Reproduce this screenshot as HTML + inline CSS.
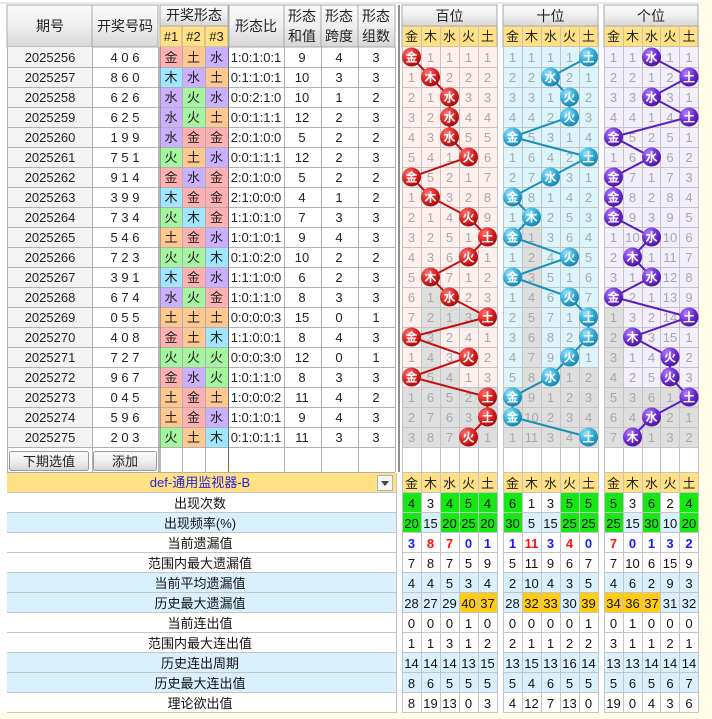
<!DOCTYPE html>
<html><head><meta charset="utf-8"><style>
html,body{margin:0;padding:0;background:#fff}
svg{display:block;font-family:"Liberation Sans","Noto Sans CJK SC",sans-serif}
.t{font-size:13px;fill:#222;text-anchor:middle}
.h{font-size:14px;fill:#222;text-anchor:middle}
.m{font-size:13px;fill:#a8a8a8;text-anchor:middle}
.b{font-size:12px;fill:#fff;font-weight:bold;text-anchor:middle}
.s{font-size:13px;fill:#111;text-anchor:middle}
</style></head><body>
<svg width="712" height="719" viewBox="0 0 712 719">
<defs>
<linearGradient id="hg" x1="0" y1="0" x2="0" y2="1"><stop offset="0" stop-color="#fbfbfb"/><stop offset="0.5" stop-color="#efefef"/><stop offset="1" stop-color="#d6d6d6"/></linearGradient>
<radialGradient id="rr" cx="0.35" cy="0.3" r="0.75"><stop offset="0" stop-color="#ff7070"/><stop offset="0.6" stop-color="#d82020"/><stop offset="1" stop-color="#a00808"/></radialGradient>
<radialGradient id="rc" cx="0.35" cy="0.3" r="0.75"><stop offset="0" stop-color="#90e4ff"/><stop offset="0.6" stop-color="#30a8d4"/><stop offset="1" stop-color="#1480a8"/></radialGradient>
<radialGradient id="rp" cx="0.35" cy="0.3" r="0.75"><stop offset="0" stop-color="#b080ff"/><stop offset="0.6" stop-color="#6a2ad0"/><stop offset="1" stop-color="#4a149c"/></radialGradient>
</defs>
<rect width="712" height="719" fill="#fff"/>
<rect x="699" y="0" width="13" height="719" fill="#fffde6"/>
<rect x="0" y="713" width="712" height="6" fill="#fffde6"/>
<line x1="0" y1="3" x2="699" y2="3" stroke="#c8d4e0"/>
<line x1="399" y1="5" x2="399" y2="472" stroke="#909090" stroke-width="2"/>

<!-- left header -->
<g stroke="#a8a8a8" stroke-width="1">
<rect x="7" y="5" width="85" height="42" fill="url(#hg)"/>
<rect x="92" y="5" width="66" height="42" fill="url(#hg)"/>
<rect x="160" y="5" width="68" height="21" fill="url(#hg)"/>
<rect x="160" y="26" width="22" height="21" fill="#ffe084"/>
<rect x="182" y="26" width="23" height="21" fill="#ffe084"/>
<rect x="205" y="26" width="23" height="21" fill="#ffe084"/>
<rect x="229" y="5" width="55" height="42" fill="url(#hg)"/>
<rect x="284" y="5" width="37" height="42" fill="url(#hg)"/>
<rect x="321" y="5" width="37" height="42" fill="url(#hg)"/>
<rect x="358" y="5" width="37" height="42" fill="url(#hg)"/>
</g>
<text class="h" x="50" y="31">期号</text>
<text class="h" x="125" y="31">开奖号码</text>
<text class="h" x="194" y="20">开奖形态</text>
<text class="t" x="171" y="41">#1</text><text class="t" x="193.5" y="41">#2</text><text class="t" x="216.5" y="41">#3</text>
<text class="h" x="256" y="31">形态比</text>
<text class="h" x="302" y="21">形态</text><text class="h" x="302" y="41">和值</text>
<text class="h" x="339" y="21">形态</text><text class="h" x="339" y="41">跨度</text>
<text class="h" x="376" y="21">形态</text><text class="h" x="376" y="41">组数</text>

<!-- left body backgrounds -->
<rect x="7" y="47" width="85" height="400" fill="#f3f3f3"/>
<!-- element cells -->
<g>
<rect x="160" y="47" width="22" height="20" fill="#ffb0b0"/><rect x="182" y="47" width="23" height="20" fill="#ffc890"/><rect x="205" y="47" width="23" height="20" fill="#cbb0ff"/>
<rect x="160" y="67" width="22" height="20" fill="#a0e6ff"/><rect x="182" y="67" width="23" height="20" fill="#cbb0ff"/><rect x="205" y="67" width="23" height="20" fill="#ffc890"/>
<rect x="160" y="87" width="22" height="20" fill="#cbb0ff"/><rect x="182" y="87" width="23" height="20" fill="#a4f4a0"/><rect x="205" y="87" width="23" height="20" fill="#cbb0ff"/>
<rect x="160" y="107" width="22" height="20" fill="#cbb0ff"/><rect x="182" y="107" width="23" height="20" fill="#a4f4a0"/><rect x="205" y="107" width="23" height="20" fill="#ffc890"/>
<rect x="160" y="127" width="22" height="20" fill="#cbb0ff"/><rect x="182" y="127" width="23" height="20" fill="#ffb0b0"/><rect x="205" y="127" width="23" height="20" fill="#ffb0b0"/>
<rect x="160" y="147" width="22" height="20" fill="#a4f4a0"/><rect x="182" y="147" width="23" height="20" fill="#ffc890"/><rect x="205" y="147" width="23" height="20" fill="#cbb0ff"/>
<rect x="160" y="167" width="22" height="20" fill="#ffb0b0"/><rect x="182" y="167" width="23" height="20" fill="#cbb0ff"/><rect x="205" y="167" width="23" height="20" fill="#ffb0b0"/>
<rect x="160" y="187" width="22" height="20" fill="#a0e6ff"/><rect x="182" y="187" width="23" height="20" fill="#ffb0b0"/><rect x="205" y="187" width="23" height="20" fill="#ffb0b0"/>
<rect x="160" y="207" width="22" height="20" fill="#a4f4a0"/><rect x="182" y="207" width="23" height="20" fill="#a0e6ff"/><rect x="205" y="207" width="23" height="20" fill="#ffb0b0"/>
<rect x="160" y="227" width="22" height="20" fill="#ffc890"/><rect x="182" y="227" width="23" height="20" fill="#ffb0b0"/><rect x="205" y="227" width="23" height="20" fill="#cbb0ff"/>
<rect x="160" y="247" width="22" height="20" fill="#a4f4a0"/><rect x="182" y="247" width="23" height="20" fill="#a4f4a0"/><rect x="205" y="247" width="23" height="20" fill="#a0e6ff"/>
<rect x="160" y="267" width="22" height="20" fill="#a0e6ff"/><rect x="182" y="267" width="23" height="20" fill="#ffb0b0"/><rect x="205" y="267" width="23" height="20" fill="#cbb0ff"/>
<rect x="160" y="287" width="22" height="20" fill="#cbb0ff"/><rect x="182" y="287" width="23" height="20" fill="#a4f4a0"/><rect x="205" y="287" width="23" height="20" fill="#ffb0b0"/>
<rect x="160" y="307" width="22" height="20" fill="#ffc890"/><rect x="182" y="307" width="23" height="20" fill="#ffc890"/><rect x="205" y="307" width="23" height="20" fill="#ffc890"/>
<rect x="160" y="327" width="22" height="20" fill="#ffb0b0"/><rect x="182" y="327" width="23" height="20" fill="#ffc890"/><rect x="205" y="327" width="23" height="20" fill="#a0e6ff"/>
<rect x="160" y="347" width="22" height="20" fill="#a4f4a0"/><rect x="182" y="347" width="23" height="20" fill="#a4f4a0"/><rect x="205" y="347" width="23" height="20" fill="#a4f4a0"/>
<rect x="160" y="367" width="22" height="20" fill="#ffb0b0"/><rect x="182" y="367" width="23" height="20" fill="#cbb0ff"/><rect x="205" y="367" width="23" height="20" fill="#a4f4a0"/>
<rect x="160" y="387" width="22" height="20" fill="#ffc890"/><rect x="182" y="387" width="23" height="20" fill="#ffb0b0"/><rect x="205" y="387" width="23" height="20" fill="#ffc890"/>
<rect x="160" y="407" width="22" height="20" fill="#ffc890"/><rect x="182" y="407" width="23" height="20" fill="#ffb0b0"/><rect x="205" y="407" width="23" height="20" fill="#cbb0ff"/>
<rect x="160" y="427" width="22" height="20" fill="#a4f4a0"/><rect x="182" y="427" width="23" height="20" fill="#ffc890"/><rect x="205" y="427" width="23" height="20" fill="#a0e6ff"/>
</g>
<!-- left grid -->
<g stroke="#b0b0b0" stroke-width="1">
<line x1="7" y1="67.5" x2="395" y2="67.5"/><line x1="7" y1="87.5" x2="395" y2="87.5"/><line x1="7" y1="107.5" x2="395" y2="107.5"/><line x1="7" y1="127.5" x2="395" y2="127.5"/><line x1="7" y1="147.5" x2="395" y2="147.5"/><line x1="7" y1="167.5" x2="395" y2="167.5"/><line x1="7" y1="187.5" x2="395" y2="187.5"/><line x1="7" y1="207.5" x2="395" y2="207.5"/><line x1="7" y1="227.5" x2="395" y2="227.5"/><line x1="7" y1="247.5" x2="395" y2="247.5"/><line x1="7" y1="267.5" x2="395" y2="267.5"/><line x1="7" y1="287.5" x2="395" y2="287.5"/><line x1="7" y1="307.5" x2="395" y2="307.5"/><line x1="7" y1="327.5" x2="395" y2="327.5"/><line x1="7" y1="347.5" x2="395" y2="347.5"/><line x1="7" y1="367.5" x2="395" y2="367.5"/><line x1="7" y1="387.5" x2="395" y2="387.5"/><line x1="7" y1="407.5" x2="395" y2="407.5"/><line x1="7" y1="427.5" x2="395" y2="427.5"/><line x1="7" y1="447.5" x2="395" y2="447.5"/><line x1="7" y1="472.5" x2="395" y2="472.5"/>
<line x1="92.5" y1="47" x2="92.5" y2="472"/><line x1="158.5" y1="47" x2="158.5" y2="472"/><line x1="182.5" y1="47" x2="182.5" y2="472"/><line x1="205.5" y1="47" x2="205.5" y2="472"/><line x1="284.5" y1="47" x2="284.5" y2="472"/><line x1="321.5" y1="47" x2="321.5" y2="472"/><line x1="358.5" y1="47" x2="358.5" y2="472"/><line x1="395.5" y1="47" x2="395.5" y2="472"/><line x1="7.5" y1="47" x2="7.5" y2="472"/>
</g>
<line x1="160" y1="47" x2="160" y2="472" stroke="#707070"/>
<line x1="228.5" y1="47" x2="228.5" y2="472" stroke="#707070"/>

<!-- left text -->
<g class="t">
<text class="t" x="50" y="62">2025256</text><text class="t" x="50" y="82">2025257</text><text class="t" x="50" y="102">2025258</text><text class="t" x="50" y="122">2025259</text><text class="t" x="50" y="142">2025260</text><text class="t" x="50" y="162">2025261</text><text class="t" x="50" y="182">2025262</text><text class="t" x="50" y="202">2025263</text><text class="t" x="50" y="222">2025264</text><text class="t" x="50" y="242">2025265</text><text class="t" x="50" y="262">2025266</text><text class="t" x="50" y="282">2025267</text><text class="t" x="50" y="302">2025268</text><text class="t" x="50" y="322">2025269</text><text class="t" x="50" y="342">2025270</text><text class="t" x="50" y="362">2025271</text><text class="t" x="50" y="382">2025272</text><text class="t" x="50" y="402">2025273</text><text class="t" x="50" y="422">2025274</text><text class="t" x="50" y="442">2025275</text>
<text class="t" x="125" y="62">4 0 6</text><text class="t" x="125" y="82">8 6 0</text><text class="t" x="125" y="102">6 2 6</text><text class="t" x="125" y="122">6 2 5</text><text class="t" x="125" y="142">1 9 9</text><text class="t" x="125" y="162">7 5 1</text><text class="t" x="125" y="182">9 1 4</text><text class="t" x="125" y="202">3 9 9</text><text class="t" x="125" y="222">7 3 4</text><text class="t" x="125" y="242">5 4 6</text><text class="t" x="125" y="262">7 2 3</text><text class="t" x="125" y="282">3 9 1</text><text class="t" x="125" y="302">6 7 4</text><text class="t" x="125" y="322">0 5 5</text><text class="t" x="125" y="342">4 0 8</text><text class="t" x="125" y="362">7 2 7</text><text class="t" x="125" y="382">9 6 7</text><text class="t" x="125" y="402">0 4 5</text><text class="t" x="125" y="422">5 9 6</text><text class="t" x="125" y="442">2 0 3</text>
</g>
<g>
<text class="t" x="171" y="62">金</text><text class="t" x="193.5" y="62">土</text><text class="t" x="216.5" y="62">水</text>
<text class="t" x="171" y="82">木</text><text class="t" x="193.5" y="82">水</text><text class="t" x="216.5" y="82">土</text>
<text class="t" x="171" y="102">水</text><text class="t" x="193.5" y="102">火</text><text class="t" x="216.5" y="102">水</text>
<text class="t" x="171" y="122">水</text><text class="t" x="193.5" y="122">火</text><text class="t" x="216.5" y="122">土</text>
<text class="t" x="171" y="142">水</text><text class="t" x="193.5" y="142">金</text><text class="t" x="216.5" y="142">金</text>
<text class="t" x="171" y="162">火</text><text class="t" x="193.5" y="162">土</text><text class="t" x="216.5" y="162">水</text>
<text class="t" x="171" y="182">金</text><text class="t" x="193.5" y="182">水</text><text class="t" x="216.5" y="182">金</text>
<text class="t" x="171" y="202">木</text><text class="t" x="193.5" y="202">金</text><text class="t" x="216.5" y="202">金</text>
<text class="t" x="171" y="222">火</text><text class="t" x="193.5" y="222">木</text><text class="t" x="216.5" y="222">金</text>
<text class="t" x="171" y="242">土</text><text class="t" x="193.5" y="242">金</text><text class="t" x="216.5" y="242">水</text>
<text class="t" x="171" y="262">火</text><text class="t" x="193.5" y="262">火</text><text class="t" x="216.5" y="262">木</text>
<text class="t" x="171" y="282">木</text><text class="t" x="193.5" y="282">金</text><text class="t" x="216.5" y="282">水</text>
<text class="t" x="171" y="302">水</text><text class="t" x="193.5" y="302">火</text><text class="t" x="216.5" y="302">金</text>
<text class="t" x="171" y="322">土</text><text class="t" x="193.5" y="322">土</text><text class="t" x="216.5" y="322">土</text>
<text class="t" x="171" y="342">金</text><text class="t" x="193.5" y="342">土</text><text class="t" x="216.5" y="342">木</text>
<text class="t" x="171" y="362">火</text><text class="t" x="193.5" y="362">火</text><text class="t" x="216.5" y="362">火</text>
<text class="t" x="171" y="382">金</text><text class="t" x="193.5" y="382">水</text><text class="t" x="216.5" y="382">火</text>
<text class="t" x="171" y="402">土</text><text class="t" x="193.5" y="402">金</text><text class="t" x="216.5" y="402">土</text>
<text class="t" x="171" y="422">土</text><text class="t" x="193.5" y="422">金</text><text class="t" x="216.5" y="422">水</text>
<text class="t" x="171" y="442">火</text><text class="t" x="193.5" y="442">土</text><text class="t" x="216.5" y="442">木</text>
</g>
<g>
<text class="t" x="256" y="62">1:0:1:0:1</text><text class="t" x="256" y="82">0:1:1:0:1</text><text class="t" x="256" y="102">0:0:2:1:0</text><text class="t" x="256" y="122">0:0:1:1:1</text><text class="t" x="256" y="142">2:0:1:0:0</text><text class="t" x="256" y="162">0:0:1:1:1</text><text class="t" x="256" y="182">2:0:1:0:0</text><text class="t" x="256" y="202">2:1:0:0:0</text><text class="t" x="256" y="222">1:1:0:1:0</text><text class="t" x="256" y="242">1:0:1:0:1</text><text class="t" x="256" y="262">0:1:0:2:0</text><text class="t" x="256" y="282">1:1:1:0:0</text><text class="t" x="256" y="302">1:0:1:1:0</text><text class="t" x="256" y="322">0:0:0:0:3</text><text class="t" x="256" y="342">1:1:0:0:1</text><text class="t" x="256" y="362">0:0:0:3:0</text><text class="t" x="256" y="382">1:0:1:1:0</text><text class="t" x="256" y="402">1:0:0:0:2</text><text class="t" x="256" y="422">1:0:1:0:1</text><text class="t" x="256" y="442">0:1:0:1:1</text>
<text class="t" x="302" y="62">9</text><text class="t" x="302" y="82">10</text><text class="t" x="302" y="102">10</text><text class="t" x="302" y="122">12</text><text class="t" x="302" y="142">5</text><text class="t" x="302" y="162">12</text><text class="t" x="302" y="182">5</text><text class="t" x="302" y="202">4</text><text class="t" x="302" y="222">7</text><text class="t" x="302" y="242">9</text><text class="t" x="302" y="262">10</text><text class="t" x="302" y="282">6</text><text class="t" x="302" y="302">8</text><text class="t" x="302" y="322">15</text><text class="t" x="302" y="342">8</text><text class="t" x="302" y="362">12</text><text class="t" x="302" y="382">8</text><text class="t" x="302" y="402">11</text><text class="t" x="302" y="422">9</text><text class="t" x="302" y="442">11</text>
<text class="t" x="339" y="62">4</text><text class="t" x="339" y="82">3</text><text class="t" x="339" y="102">1</text><text class="t" x="339" y="122">2</text><text class="t" x="339" y="142">2</text><text class="t" x="339" y="162">2</text><text class="t" x="339" y="182">2</text><text class="t" x="339" y="202">1</text><text class="t" x="339" y="222">3</text><text class="t" x="339" y="242">4</text><text class="t" x="339" y="262">2</text><text class="t" x="339" y="282">2</text><text class="t" x="339" y="302">3</text><text class="t" x="339" y="322">0</text><text class="t" x="339" y="342">4</text><text class="t" x="339" y="362">0</text><text class="t" x="339" y="382">3</text><text class="t" x="339" y="402">4</text><text class="t" x="339" y="422">4</text><text class="t" x="339" y="442">3</text>
<text class="t" x="376" y="62">3</text><text class="t" x="376" y="82">3</text><text class="t" x="376" y="102">2</text><text class="t" x="376" y="122">3</text><text class="t" x="376" y="142">2</text><text class="t" x="376" y="162">3</text><text class="t" x="376" y="182">2</text><text class="t" x="376" y="202">2</text><text class="t" x="376" y="222">3</text><text class="t" x="376" y="242">3</text><text class="t" x="376" y="262">2</text><text class="t" x="376" y="282">3</text><text class="t" x="376" y="302">3</text><text class="t" x="376" y="322">1</text><text class="t" x="376" y="342">3</text><text class="t" x="376" y="362">1</text><text class="t" x="376" y="382">3</text><text class="t" x="376" y="402">2</text><text class="t" x="376" y="422">3</text><text class="t" x="376" y="442">3</text>
</g>

<!-- buttons -->
<rect x="9.5" y="451.5" width="79" height="19" rx="2" fill="url(#hg)" stroke="#9a9a9a"/>
<text class="t" x="49" y="466">下期选值</text>
<rect x="93.5" y="451.5" width="63" height="19" rx="2" fill="url(#hg)" stroke="#9a9a9a"/>
<text class="t" x="125" y="466">添加</text>

<!-- chart headers -->
<g stroke="#a8a8a8">
<rect x="402" y="5" width="95" height="21" fill="url(#hg)"/>
<rect x="503" y="5" width="95" height="21" fill="url(#hg)"/>
<rect x="604" y="5" width="94" height="21" fill="url(#hg)"/>
<rect x="402" y="26" width="95" height="21" fill="#ffe084"/>
<rect x="503" y="26" width="95" height="21" fill="#ffe084"/>
<rect x="604" y="26" width="94" height="21" fill="#ffe084"/>
</g>
<text class="h" x="449.5" y="21">百位</text><text class="h" x="550.5" y="21">十位</text><text class="h" x="651" y="21">个位</text>
<g>
<text class="t" x="411.5" y="41">金</text><text class="t" x="430.5" y="41">木</text><text class="t" x="449.5" y="41">水</text><text class="t" x="468.5" y="41">火</text><text class="t" x="487.5" y="41">土</text>
<text class="t" x="512.5" y="41">金</text><text class="t" x="531.5" y="41">木</text><text class="t" x="550.5" y="41">水</text><text class="t" x="569.5" y="41">火</text><text class="t" x="588.5" y="41">土</text>
<text class="t" x="613.5" y="41">金</text><text class="t" x="632.5" y="41">木</text><text class="t" x="651.5" y="41">水</text><text class="t" x="670" y="41">火</text><text class="t" x="689" y="41">土</text>
</g>

<!-- chart bodies -->
<rect x="402" y="47" width="95" height="400" fill="#fff0ee"/>
<rect x="503" y="47" width="95" height="400" fill="#dcf5fc"/>
<rect x="604" y="47" width="94" height="400" fill="#f2eefc"/>
<g fill="#dedede">
<rect x="421" y="287" width="19" height="160"/><rect x="440" y="307" width="19" height="20"/><rect x="459" y="307" width="19" height="20"/><rect x="402" y="387" width="95" height="60"/><rect x="440" y="367" width="19" height="20"/>
<rect x="522" y="227" width="19" height="220"/><rect x="560" y="367" width="38" height="20"/><rect x="503" y="387" width="95" height="60"/>
<rect x="604" y="307" width="19" height="140"/><rect x="604" y="387" width="94" height="60"/>
</g>
<rect x="402" y="447" width="95" height="26" fill="#fff"/><rect x="503" y="447" width="95" height="26" fill="#fff"/><rect x="604" y="447" width="94" height="26" fill="#fff"/>
<g stroke="#c4c4c4" stroke-width="1">
<path d="M402 67.5H497M402 87.5H497M402 107.5H497M402 127.5H497M402 147.5H497M402 167.5H497M402 187.5H497M402 207.5H497M402 227.5H497M402 247.5H497M402 267.5H497M402 287.5H497M402 307.5H497M402 327.5H497M402 347.5H497M402 367.5H497M402 387.5H497M402 407.5H497M402 427.5H497M402 447.5H497M402 472.5H497"/>
<path d="M503 67.5H598M503 87.5H598M503 107.5H598M503 127.5H598M503 147.5H598M503 167.5H598M503 187.5H598M503 207.5H598M503 227.5H598M503 247.5H598M503 267.5H598M503 287.5H598M503 307.5H598M503 327.5H598M503 347.5H598M503 367.5H598M503 387.5H598M503 407.5H598M503 427.5H598M503 447.5H598M503 472.5H598"/>
<path d="M604 67.5H698M604 87.5H698M604 107.5H698M604 127.5H698M604 147.5H698M604 167.5H698M604 187.5H698M604 207.5H698M604 227.5H698M604 247.5H698M604 267.5H698M604 287.5H698M604 307.5H698M604 327.5H698M604 347.5H698M604 367.5H698M604 387.5H698M604 407.5H698M604 427.5H698M604 447.5H698M604 472.5H698"/>
<path d="M402.5 26V713M421.5 26V713M440.5 26V713M459.5 26V713M478.5 26V713M497.5 26V713M503.5 26V713M522.5 26V713M541.5 26V713M560.5 26V713M579.5 26V713M598.5 26V713M604.5 26V713M623.5 26V713M642.5 26V713M660.5 26V713M679.5 26V713M698.5 26V713"/>
</g>

<!-- miss numbers 百位 -->
<g>
<text class="m" x="430.5" y="62">1</text><text class="m" x="449.5" y="62">1</text><text class="m" x="468.5" y="62">1</text><text class="m" x="487.5" y="62">1</text>
<text class="m" x="411.5" y="82">1</text><text class="m" x="449.5" y="82">2</text><text class="m" x="468.5" y="82">2</text><text class="m" x="487.5" y="82">2</text>
<text class="m" x="411.5" y="102">2</text><text class="m" x="430.5" y="102">1</text><text class="m" x="468.5" y="102">3</text><text class="m" x="487.5" y="102">3</text>
<text class="m" x="411.5" y="122">3</text><text class="m" x="430.5" y="122">2</text><text class="m" x="468.5" y="122">4</text><text class="m" x="487.5" y="122">4</text>
<text class="m" x="411.5" y="142">4</text><text class="m" x="430.5" y="142">3</text><text class="m" x="468.5" y="142">5</text><text class="m" x="487.5" y="142">5</text>
<text class="m" x="411.5" y="162">5</text><text class="m" x="430.5" y="162">4</text><text class="m" x="449.5" y="162">1</text><text class="m" x="487.5" y="162">6</text>
<text class="m" x="430.5" y="182">5</text><text class="m" x="449.5" y="182">2</text><text class="m" x="468.5" y="182">1</text><text class="m" x="487.5" y="182">7</text>
<text class="m" x="411.5" y="202">1</text><text class="m" x="449.5" y="202">3</text><text class="m" x="468.5" y="202">2</text><text class="m" x="487.5" y="202">8</text>
<text class="m" x="411.5" y="222">2</text><text class="m" x="430.5" y="222">1</text><text class="m" x="449.5" y="222">4</text><text class="m" x="487.5" y="222">9</text>
<text class="m" x="411.5" y="242">3</text><text class="m" x="430.5" y="242">2</text><text class="m" x="449.5" y="242">5</text><text class="m" x="468.5" y="242">1</text>
<text class="m" x="411.5" y="262">4</text><text class="m" x="430.5" y="262">3</text><text class="m" x="449.5" y="262">6</text><text class="m" x="487.5" y="262">1</text>
<text class="m" x="411.5" y="282">5</text><text class="m" x="449.5" y="282">7</text><text class="m" x="468.5" y="282">1</text><text class="m" x="487.5" y="282">2</text>
<text class="m" x="411.5" y="302">6</text><text class="m" x="430.5" y="302">1</text><text class="m" x="468.5" y="302">2</text><text class="m" x="487.5" y="302">3</text>
<text class="m" x="411.5" y="322">7</text><text class="m" x="430.5" y="322">2</text><text class="m" x="449.5" y="322">1</text><text class="m" x="468.5" y="322">3</text>
<text class="m" x="430.5" y="342">3</text><text class="m" x="449.5" y="342">2</text><text class="m" x="468.5" y="342">4</text><text class="m" x="487.5" y="342">1</text>
<text class="m" x="411.5" y="362">1</text><text class="m" x="430.5" y="362">4</text><text class="m" x="449.5" y="362">3</text><text class="m" x="487.5" y="362">2</text>
<text class="m" x="430.5" y="382">5</text><text class="m" x="449.5" y="382">4</text><text class="m" x="468.5" y="382">1</text><text class="m" x="487.5" y="382">3</text>
<text class="m" x="411.5" y="402">1</text><text class="m" x="430.5" y="402">6</text><text class="m" x="449.5" y="402">5</text><text class="m" x="468.5" y="402">2</text>
<text class="m" x="411.5" y="422">2</text><text class="m" x="430.5" y="422">7</text><text class="m" x="449.5" y="422">6</text><text class="m" x="468.5" y="422">3</text>
<text class="m" x="411.5" y="442">3</text><text class="m" x="430.5" y="442">8</text><text class="m" x="449.5" y="442">7</text><text class="m" x="487.5" y="442">1</text>
</g>
<!-- 十位 -->
<g>
<text class="m" x="512.5" y="62">1</text><text class="m" x="531.5" y="62">1</text><text class="m" x="550.5" y="62">1</text><text class="m" x="569.5" y="62">1</text>
<text class="m" x="512.5" y="82">2</text><text class="m" x="531.5" y="82">2</text><text class="m" x="569.5" y="82">2</text><text class="m" x="588.5" y="82">1</text>
<text class="m" x="512.5" y="102">3</text><text class="m" x="531.5" y="102">3</text><text class="m" x="550.5" y="102">1</text><text class="m" x="588.5" y="102">2</text>
<text class="m" x="512.5" y="122">4</text><text class="m" x="531.5" y="122">4</text><text class="m" x="550.5" y="122">2</text><text class="m" x="588.5" y="122">3</text>
<text class="m" x="531.5" y="142">5</text><text class="m" x="550.5" y="142">3</text><text class="m" x="569.5" y="142">1</text><text class="m" x="588.5" y="142">4</text>
<text class="m" x="512.5" y="162">1</text><text class="m" x="531.5" y="162">6</text><text class="m" x="550.5" y="162">4</text><text class="m" x="569.5" y="162">2</text>
<text class="m" x="512.5" y="182">2</text><text class="m" x="531.5" y="182">7</text><text class="m" x="569.5" y="182">3</text><text class="m" x="588.5" y="182">1</text>
<text class="m" x="531.5" y="202">8</text><text class="m" x="550.5" y="202">1</text><text class="m" x="569.5" y="202">4</text><text class="m" x="588.5" y="202">2</text>
<text class="m" x="512.5" y="222">1</text><text class="m" x="550.5" y="222">2</text><text class="m" x="569.5" y="222">5</text><text class="m" x="588.5" y="222">3</text>
<text class="m" x="531.5" y="242">1</text><text class="m" x="550.5" y="242">3</text><text class="m" x="569.5" y="242">6</text><text class="m" x="588.5" y="242">4</text>
<text class="m" x="512.5" y="262">1</text><text class="m" x="531.5" y="262">2</text><text class="m" x="550.5" y="262">4</text><text class="m" x="588.5" y="262">5</text>
<text class="m" x="531.5" y="282">3</text><text class="m" x="550.5" y="282">5</text><text class="m" x="569.5" y="282">1</text><text class="m" x="588.5" y="282">6</text>
<text class="m" x="512.5" y="302">1</text><text class="m" x="531.5" y="302">4</text><text class="m" x="550.5" y="302">6</text><text class="m" x="588.5" y="302">7</text>
<text class="m" x="512.5" y="322">2</text><text class="m" x="531.5" y="322">5</text><text class="m" x="550.5" y="322">7</text><text class="m" x="569.5" y="322">1</text>
<text class="m" x="512.5" y="342">3</text><text class="m" x="531.5" y="342">6</text><text class="m" x="550.5" y="342">8</text><text class="m" x="569.5" y="342">2</text>
<text class="m" x="512.5" y="362">4</text><text class="m" x="531.5" y="362">7</text><text class="m" x="550.5" y="362">9</text><text class="m" x="588.5" y="362">1</text>
<text class="m" x="512.5" y="382">5</text><text class="m" x="531.5" y="382">8</text><text class="m" x="569.5" y="382">1</text><text class="m" x="588.5" y="382">2</text>
<text class="m" x="531.5" y="402">9</text><text class="m" x="550.5" y="402">1</text><text class="m" x="569.5" y="402">2</text><text class="m" x="588.5" y="402">3</text>
<text class="m" x="531.5" y="422">10</text><text class="m" x="550.5" y="422">2</text><text class="m" x="569.5" y="422">3</text><text class="m" x="588.5" y="422">4</text>
<text class="m" x="512.5" y="442">1</text><text class="m" x="531.5" y="442">11</text><text class="m" x="550.5" y="442">3</text><text class="m" x="569.5" y="442">4</text>
</g>
<!-- 个位 -->
<g>
<text class="m" x="613.5" y="62">1</text><text class="m" x="632.5" y="62">1</text><text class="m" x="670" y="62">1</text><text class="m" x="689" y="62">1</text>
<text class="m" x="613.5" y="82">2</text><text class="m" x="632.5" y="82">2</text><text class="m" x="651.5" y="82">1</text><text class="m" x="670" y="82">2</text>
<text class="m" x="613.5" y="102">3</text><text class="m" x="632.5" y="102">3</text><text class="m" x="670" y="102">3</text><text class="m" x="689" y="102">1</text>
<text class="m" x="613.5" y="122">4</text><text class="m" x="632.5" y="122">4</text><text class="m" x="651.5" y="122">1</text><text class="m" x="670" y="122">4</text>
<text class="m" x="632.5" y="142">5</text><text class="m" x="651.5" y="142">2</text><text class="m" x="670" y="142">5</text><text class="m" x="689" y="142">1</text>
<text class="m" x="613.5" y="162">1</text><text class="m" x="632.5" y="162">6</text><text class="m" x="670" y="162">6</text><text class="m" x="689" y="162">2</text>
<text class="m" x="632.5" y="182">7</text><text class="m" x="651.5" y="182">1</text><text class="m" x="670" y="182">7</text><text class="m" x="689" y="182">3</text>
<text class="m" x="632.5" y="202">8</text><text class="m" x="651.5" y="202">2</text><text class="m" x="670" y="202">8</text><text class="m" x="689" y="202">4</text>
<text class="m" x="632.5" y="222">9</text><text class="m" x="651.5" y="222">3</text><text class="m" x="670" y="222">9</text><text class="m" x="689" y="222">5</text>
<text class="m" x="613.5" y="242">1</text><text class="m" x="632.5" y="242">10</text><text class="m" x="670" y="242">10</text><text class="m" x="689" y="242">6</text>
<text class="m" x="613.5" y="262">2</text><text class="m" x="651.5" y="262">1</text><text class="m" x="670" y="262">11</text><text class="m" x="689" y="262">7</text>
<text class="m" x="613.5" y="282">3</text><text class="m" x="632.5" y="282">1</text><text class="m" x="670" y="282">12</text><text class="m" x="689" y="282">8</text>
<text class="m" x="632.5" y="302">2</text><text class="m" x="651.5" y="302">1</text><text class="m" x="670" y="302">13</text><text class="m" x="689" y="302">9</text>
<text class="m" x="613.5" y="322">1</text><text class="m" x="632.5" y="322">3</text><text class="m" x="651.5" y="322">2</text><text class="m" x="670" y="322">14</text>
<text class="m" x="613.5" y="342">2</text><text class="m" x="651.5" y="342">3</text><text class="m" x="670" y="342">15</text><text class="m" x="689" y="342">1</text>
<text class="m" x="613.5" y="362">3</text><text class="m" x="632.5" y="362">1</text><text class="m" x="651.5" y="362">4</text><text class="m" x="689" y="362">2</text>
<text class="m" x="613.5" y="382">4</text><text class="m" x="632.5" y="382">2</text><text class="m" x="651.5" y="382">5</text><text class="m" x="689" y="382">3</text>
<text class="m" x="613.5" y="402">5</text><text class="m" x="632.5" y="402">3</text><text class="m" x="651.5" y="402">6</text><text class="m" x="670" y="402">1</text>
<text class="m" x="613.5" y="422">6</text><text class="m" x="632.5" y="422">4</text><text class="m" x="670" y="422">2</text><text class="m" x="689" y="422">1</text>
<text class="m" x="613.5" y="442">7</text><text class="m" x="651.5" y="442">1</text><text class="m" x="670" y="442">3</text><text class="m" x="689" y="442">2</text>
</g>

<!-- lines -->
<polyline fill="none" stroke="#c41010" stroke-width="2" points="411.5,57 430.5,77 449.5,97 449.5,117 449.5,137 468.5,157 411.5,177 430.5,197 468.5,217 487.5,237 468.5,257 430.5,277 449.5,297 487.5,317 411.5,337 468.5,357 411.5,377 487.5,397 487.5,417 468.5,437"/>
<polyline fill="none" stroke="#1890b8" stroke-width="2" points="588.5,57 550.5,77 569.5,97 569.5,117 512.5,137 588.5,157 550.5,177 512.5,197 531.5,217 512.5,237 569.5,257 512.5,277 569.5,297 588.5,317 588.5,337 569.5,357 550.5,377 512.5,397 512.5,417 588.5,437"/>
<polyline fill="none" stroke="#5a1ec0" stroke-width="2" points="651.5,57 689,77 651.5,97 689,117 613.5,137 651.5,157 613.5,177 613.5,197 613.5,217 651.5,237 632.5,257 651.5,277 613.5,297 689,317 632.5,337 670,357 670,377 689,397 651.5,417 632.5,437"/>

<!-- balls 百位 -->
<g fill="url(#rr)">
<circle cx="411.5" cy="57" r="9.5"/><circle cx="430.5" cy="77" r="9.5"/><circle cx="449.5" cy="97" r="9.5"/><circle cx="449.5" cy="117" r="9.5"/><circle cx="449.5" cy="137" r="9.5"/><circle cx="468.5" cy="157" r="9.5"/><circle cx="411.5" cy="177" r="9.5"/><circle cx="430.5" cy="197" r="9.5"/><circle cx="468.5" cy="217" r="9.5"/><circle cx="487.5" cy="237" r="9.5"/><circle cx="468.5" cy="257" r="9.5"/><circle cx="430.5" cy="277" r="9.5"/><circle cx="449.5" cy="297" r="9.5"/><circle cx="487.5" cy="317" r="9.5"/><circle cx="411.5" cy="337" r="9.5"/><circle cx="468.5" cy="357" r="9.5"/><circle cx="411.5" cy="377" r="9.5"/><circle cx="487.5" cy="397" r="9.5"/><circle cx="487.5" cy="417" r="9.5"/><circle cx="468.5" cy="437" r="9.5"/>
</g>
<g fill="url(#rc)">
<circle cx="588.5" cy="57" r="9.5"/><circle cx="550.5" cy="77" r="9.5"/><circle cx="569.5" cy="97" r="9.5"/><circle cx="569.5" cy="117" r="9.5"/><circle cx="512.5" cy="137" r="9.5"/><circle cx="588.5" cy="157" r="9.5"/><circle cx="550.5" cy="177" r="9.5"/><circle cx="512.5" cy="197" r="9.5"/><circle cx="531.5" cy="217" r="9.5"/><circle cx="512.5" cy="237" r="9.5"/><circle cx="569.5" cy="257" r="9.5"/><circle cx="512.5" cy="277" r="9.5"/><circle cx="569.5" cy="297" r="9.5"/><circle cx="588.5" cy="317" r="9.5"/><circle cx="588.5" cy="337" r="9.5"/><circle cx="569.5" cy="357" r="9.5"/><circle cx="550.5" cy="377" r="9.5"/><circle cx="512.5" cy="397" r="9.5"/><circle cx="512.5" cy="417" r="9.5"/><circle cx="588.5" cy="437" r="9.5"/>
</g>
<g fill="url(#rp)">
<circle cx="651.5" cy="57" r="9.5"/><circle cx="689" cy="77" r="9.5"/><circle cx="651.5" cy="97" r="9.5"/><circle cx="689" cy="117" r="9.5"/><circle cx="613.5" cy="137" r="9.5"/><circle cx="651.5" cy="157" r="9.5"/><circle cx="613.5" cy="177" r="9.5"/><circle cx="613.5" cy="197" r="9.5"/><circle cx="613.5" cy="217" r="9.5"/><circle cx="651.5" cy="237" r="9.5"/><circle cx="632.5" cy="257" r="9.5"/><circle cx="651.5" cy="277" r="9.5"/><circle cx="613.5" cy="297" r="9.5"/><circle cx="689" cy="317" r="9.5"/><circle cx="632.5" cy="337" r="9.5"/><circle cx="670" cy="357" r="9.5"/><circle cx="670" cy="377" r="9.5"/><circle cx="689" cy="397" r="9.5"/><circle cx="651.5" cy="417" r="9.5"/><circle cx="632.5" cy="437" r="9.5"/>
</g>
<g>
<text class="b" x="411.5" y="61.5">金</text><text class="b" x="430.5" y="81.5">木</text><text class="b" x="449.5" y="101.5">水</text><text class="b" x="449.5" y="121.5">水</text><text class="b" x="449.5" y="141.5">水</text><text class="b" x="468.5" y="161.5">火</text><text class="b" x="411.5" y="181.5">金</text><text class="b" x="430.5" y="201.5">木</text><text class="b" x="468.5" y="221.5">火</text><text class="b" x="487.5" y="241.5">土</text><text class="b" x="468.5" y="261.5">火</text><text class="b" x="430.5" y="281.5">木</text><text class="b" x="449.5" y="301.5">水</text><text class="b" x="487.5" y="321.5">土</text><text class="b" x="411.5" y="341.5">金</text><text class="b" x="468.5" y="361.5">火</text><text class="b" x="411.5" y="381.5">金</text><text class="b" x="487.5" y="401.5">土</text><text class="b" x="487.5" y="421.5">土</text><text class="b" x="468.5" y="441.5">火</text>
<text class="b" x="588.5" y="61.5">土</text><text class="b" x="550.5" y="81.5">水</text><text class="b" x="569.5" y="101.5">火</text><text class="b" x="569.5" y="121.5">火</text><text class="b" x="512.5" y="141.5">金</text><text class="b" x="588.5" y="161.5">土</text><text class="b" x="550.5" y="181.5">水</text><text class="b" x="512.5" y="201.5">金</text><text class="b" x="531.5" y="221.5">木</text><text class="b" x="512.5" y="241.5">金</text><text class="b" x="569.5" y="261.5">火</text><text class="b" x="512.5" y="281.5">金</text><text class="b" x="569.5" y="301.5">火</text><text class="b" x="588.5" y="321.5">土</text><text class="b" x="588.5" y="341.5">土</text><text class="b" x="569.5" y="361.5">火</text><text class="b" x="550.5" y="381.5">水</text><text class="b" x="512.5" y="401.5">金</text><text class="b" x="512.5" y="421.5">金</text><text class="b" x="588.5" y="441.5">土</text>
<text class="b" x="651.5" y="61.5">水</text><text class="b" x="689" y="81.5">土</text><text class="b" x="651.5" y="101.5">水</text><text class="b" x="689" y="121.5">土</text><text class="b" x="613.5" y="141.5">金</text><text class="b" x="651.5" y="161.5">水</text><text class="b" x="613.5" y="181.5">金</text><text class="b" x="613.5" y="201.5">金</text><text class="b" x="613.5" y="221.5">金</text><text class="b" x="651.5" y="241.5">水</text><text class="b" x="632.5" y="261.5">木</text><text class="b" x="651.5" y="281.5">水</text><text class="b" x="613.5" y="301.5">金</text><text class="b" x="689" y="321.5">土</text><text class="b" x="632.5" y="341.5">木</text><text class="b" x="670" y="361.5">火</text><text class="b" x="670" y="381.5">火</text><text class="b" x="689" y="401.5">土</text><text class="b" x="651.5" y="421.5">水</text><text class="b" x="632.5" y="441.5">木</text>
</g>

<!-- bottom section -->
<rect x="7" y="473" width="390" height="20" fill="#ffe084"/>
<text x="200" y="487" font-size="13" fill="#2424e0" text-anchor="middle">def-通用监视器-B</text>
<rect x="377.5" y="475.5" width="15" height="15" fill="#f6f6f6" stroke="#b0b0b0"/>
<path d="M381 481h8l-4 5z" fill="#444"/>
<g fill="#ffe084">
<rect x="402" y="473" width="95" height="20"/><rect x="503" y="473" width="95" height="20"/><rect x="604" y="473" width="94" height="20"/>
</g>
<g>
<text class="t" x="411.5" y="488">金</text><text class="t" x="430.5" y="488">木</text><text class="t" x="449.5" y="488">水</text><text class="t" x="468.5" y="488">火</text><text class="t" x="487.5" y="488">土</text>
<text class="t" x="512.5" y="488">金</text><text class="t" x="531.5" y="488">木</text><text class="t" x="550.5" y="488">水</text><text class="t" x="569.5" y="488">火</text><text class="t" x="588.5" y="488">土</text>
<text class="t" x="613.5" y="488">金</text><text class="t" x="632.5" y="488">木</text><text class="t" x="651.5" y="488">水</text><text class="t" x="670" y="488">火</text><text class="t" x="689" y="488">土</text>
</g>
<!-- blue row bgs -->
<g fill="#d9f1fc">
<rect x="7" y="513" width="691" height="20"/>
<rect x="7" y="573" width="691" height="40"/>
<rect x="7" y="653" width="691" height="40"/>
</g>
<rect x="397" y="493" width="5" height="220" fill="#fff"/><rect x="497" y="493" width="6" height="220" fill="#fff"/><rect x="598" y="493" width="6" height="220" fill="#fff"/>
<!-- highlights -->
<g fill="#16e816">
<rect x="402" y="493" width="19" height="40"/><rect x="440" y="493" width="57" height="40"/>
<rect x="503" y="493" width="19" height="40"/><rect x="560" y="493" width="38" height="40"/>
<rect x="604" y="493" width="19" height="40"/><rect x="642" y="493" width="18" height="40"/><rect x="679" y="493" width="19" height="40"/>
</g>
<g fill="#ffcc10">
<rect x="459" y="593" width="38" height="20"/><rect x="522" y="593" width="38" height="20"/><rect x="579" y="593" width="19" height="20"/><rect x="604" y="593" width="56" height="20"/>
</g>
<g stroke="#c4c4c4">
<path d="M7 492.5H397M7 512.5H397M7 532.5H397M7 552.5H397M7 572.5H397M7 592.5H397M7 612.5H397M7 632.5H397M7 652.5H397M7 672.5H397M7 692.5H397M7 712.5H397M396.5 473V713"/>
<path d="M402 492.5H497M402 512.5H497M402 532.5H497M402 552.5H497M402 572.5H497M402 592.5H497M402 612.5H497M402 632.5H497M402 652.5H497M402 672.5H497M402 692.5H497M402 712.5H497"/>
<path d="M503 492.5H598M503 512.5H598M503 532.5H598M503 552.5H598M503 572.5H598M503 592.5H598M503 612.5H598M503 632.5H598M503 652.5H598M503 672.5H598M503 692.5H598M503 712.5H598"/>
<path d="M604 492.5H698M604 512.5H698M604 532.5H698M604 552.5H698M604 572.5H698M604 592.5H698M604 612.5H698M604 632.5H698M604 652.5H698M604 672.5H698M604 692.5H698M604 712.5H698"/>
<path d="M402.5 473V713M421.5 473V713M440.5 473V713M459.5 473V713M478.5 473V713M497.5 473V713M503.5 473V713M522.5 473V713M541.5 473V713M560.5 473V713M579.5 473V713M598.5 473V713M604.5 473V713M623.5 473V713M642.5 473V713M660.5 473V713M679.5 473V713M698.5 473V713"/>
</g>
<g>
<text class="s" x="200" y="508">出现次数</text>
<text class="s" x="200" y="528">出现频率(%)</text>
<text class="s" x="200" y="548">当前遗漏值</text>
<text class="s" x="200" y="568">范围内最大遗漏值</text>
<text class="s" x="200" y="588">当前平均遗漏值</text>
<text class="s" x="200" y="608">历史最大遗漏值</text>
<text class="s" x="200" y="628">当前连出值</text>
<text class="s" x="200" y="648">范围内最大连出值</text>
<text class="s" x="200" y="668">历史连出周期</text>
<text class="s" x="200" y="688">历史最大连出值</text>
<text class="s" x="200" y="708">理论欲出值</text>
</g>
<g>
<text class="s" x="411.5" y="508">4</text><text class="s" x="430.5" y="508">3</text><text class="s" x="449.5" y="508">4</text><text class="s" x="468.5" y="508">5</text><text class="s" x="487.5" y="508">4</text><text class="s" x="512.5" y="508">6</text><text class="s" x="531.5" y="508">1</text><text class="s" x="550.5" y="508">3</text><text class="s" x="569.5" y="508">5</text><text class="s" x="588.5" y="508">5</text><text class="s" x="613.5" y="508">5</text><text class="s" x="632.5" y="508">3</text><text class="s" x="651.5" y="508">6</text><text class="s" x="670" y="508">2</text><text class="s" x="689" y="508">4</text>
<text class="s" x="411.5" y="528">20</text><text class="s" x="430.5" y="528">15</text><text class="s" x="449.5" y="528">20</text><text class="s" x="468.5" y="528">25</text><text class="s" x="487.5" y="528">20</text><text class="s" x="512.5" y="528">30</text><text class="s" x="531.5" y="528">5</text><text class="s" x="550.5" y="528">15</text><text class="s" x="569.5" y="528">25</text><text class="s" x="588.5" y="528">25</text><text class="s" x="613.5" y="528">25</text><text class="s" x="632.5" y="528">15</text><text class="s" x="651.5" y="528">30</text><text class="s" x="670" y="528">10</text><text class="s" x="689" y="528">20</text>
</g>
<g font-weight="bold">
<text class="s" x="411.5" y="548" style="fill:#1a1aff">3</text><text class="s" x="430.5" y="548" style="fill:#ff1010">8</text><text class="s" x="449.5" y="548" style="fill:#ff1010">7</text><text class="s" x="468.5" y="548" style="fill:#1a1aff">0</text><text class="s" x="487.5" y="548" style="fill:#1a1aff">1</text><text class="s" x="512.5" y="548" style="fill:#1a1aff">1</text><text class="s" x="531.5" y="548" style="fill:#ff1010">11</text><text class="s" x="550.5" y="548" style="fill:#1a1aff">3</text><text class="s" x="569.5" y="548" style="fill:#ff1010">4</text><text class="s" x="588.5" y="548" style="fill:#1a1aff">0</text><text class="s" x="613.5" y="548" style="fill:#ff1010">7</text><text class="s" x="632.5" y="548" style="fill:#1a1aff">0</text><text class="s" x="651.5" y="548" style="fill:#1a1aff">1</text><text class="s" x="670" y="548" style="fill:#1a1aff">3</text><text class="s" x="689" y="548" style="fill:#1a1aff">2</text>
</g>
<g>
<text class="s" x="411.5" y="568">7</text><text class="s" x="430.5" y="568">8</text><text class="s" x="449.5" y="568">7</text><text class="s" x="468.5" y="568">5</text><text class="s" x="487.5" y="568">9</text><text class="s" x="512.5" y="568">5</text><text class="s" x="531.5" y="568">11</text><text class="s" x="550.5" y="568">9</text><text class="s" x="569.5" y="568">6</text><text class="s" x="588.5" y="568">7</text><text class="s" x="613.5" y="568">7</text><text class="s" x="632.5" y="568">10</text><text class="s" x="651.5" y="568">6</text><text class="s" x="670" y="568">15</text><text class="s" x="689" y="568">9</text>
<text class="s" x="411.5" y="588">4</text><text class="s" x="430.5" y="588">4</text><text class="s" x="449.5" y="588">5</text><text class="s" x="468.5" y="588">3</text><text class="s" x="487.5" y="588">4</text><text class="s" x="512.5" y="588">2</text><text class="s" x="531.5" y="588">10</text><text class="s" x="550.5" y="588">4</text><text class="s" x="569.5" y="588">3</text><text class="s" x="588.5" y="588">5</text><text class="s" x="613.5" y="588">4</text><text class="s" x="632.5" y="588">6</text><text class="s" x="651.5" y="588">2</text><text class="s" x="670" y="588">9</text><text class="s" x="689" y="588">3</text>
<text class="s" x="411.5" y="608">28</text><text class="s" x="430.5" y="608">27</text><text class="s" x="449.5" y="608">29</text><text class="s" x="468.5" y="608">40</text><text class="s" x="487.5" y="608">37</text><text class="s" x="512.5" y="608">28</text><text class="s" x="531.5" y="608">32</text><text class="s" x="550.5" y="608">33</text><text class="s" x="569.5" y="608">30</text><text class="s" x="588.5" y="608">39</text><text class="s" x="613.5" y="608">34</text><text class="s" x="632.5" y="608">36</text><text class="s" x="651.5" y="608">37</text><text class="s" x="670" y="608">31</text><text class="s" x="689" y="608">32</text>
<text class="s" x="411.5" y="628">0</text><text class="s" x="430.5" y="628">0</text><text class="s" x="449.5" y="628">0</text><text class="s" x="468.5" y="628">1</text><text class="s" x="487.5" y="628">0</text><text class="s" x="512.5" y="628">0</text><text class="s" x="531.5" y="628">0</text><text class="s" x="550.5" y="628">0</text><text class="s" x="569.5" y="628">0</text><text class="s" x="588.5" y="628">1</text><text class="s" x="613.5" y="628">0</text><text class="s" x="632.5" y="628">1</text><text class="s" x="651.5" y="628">0</text><text class="s" x="670" y="628">0</text><text class="s" x="689" y="628">0</text>
<text class="s" x="411.5" y="648">1</text><text class="s" x="430.5" y="648">1</text><text class="s" x="449.5" y="648">3</text><text class="s" x="468.5" y="648">1</text><text class="s" x="487.5" y="648">2</text><text class="s" x="512.5" y="648">2</text><text class="s" x="531.5" y="648">1</text><text class="s" x="550.5" y="648">1</text><text class="s" x="569.5" y="648">2</text><text class="s" x="588.5" y="648">2</text><text class="s" x="613.5" y="648">3</text><text class="s" x="632.5" y="648">1</text><text class="s" x="651.5" y="648">1</text><text class="s" x="670" y="648">2</text><text class="s" x="689" y="648">1</text>
<text class="s" x="411.5" y="668">14</text><text class="s" x="430.5" y="668">14</text><text class="s" x="449.5" y="668">14</text><text class="s" x="468.5" y="668">13</text><text class="s" x="487.5" y="668">15</text><text class="s" x="512.5" y="668">13</text><text class="s" x="531.5" y="668">15</text><text class="s" x="550.5" y="668">13</text><text class="s" x="569.5" y="668">16</text><text class="s" x="588.5" y="668">14</text><text class="s" x="613.5" y="668">13</text><text class="s" x="632.5" y="668">13</text><text class="s" x="651.5" y="668">14</text><text class="s" x="670" y="668">14</text><text class="s" x="689" y="668">14</text>
<text class="s" x="411.5" y="688">8</text><text class="s" x="430.5" y="688">6</text><text class="s" x="449.5" y="688">5</text><text class="s" x="468.5" y="688">5</text><text class="s" x="487.5" y="688">5</text><text class="s" x="512.5" y="688">5</text><text class="s" x="531.5" y="688">4</text><text class="s" x="550.5" y="688">6</text><text class="s" x="569.5" y="688">5</text><text class="s" x="588.5" y="688">5</text><text class="s" x="613.5" y="688">5</text><text class="s" x="632.5" y="688">6</text><text class="s" x="651.5" y="688">5</text><text class="s" x="670" y="688">6</text><text class="s" x="689" y="688">7</text>
<text class="s" x="411.5" y="708">8</text><text class="s" x="430.5" y="708">19</text><text class="s" x="449.5" y="708">13</text><text class="s" x="468.5" y="708">0</text><text class="s" x="487.5" y="708">3</text><text class="s" x="512.5" y="708">4</text><text class="s" x="531.5" y="708">12</text><text class="s" x="550.5" y="708">7</text><text class="s" x="569.5" y="708">13</text><text class="s" x="588.5" y="708">0</text><text class="s" x="613.5" y="708">19</text><text class="s" x="632.5" y="708">0</text><text class="s" x="651.5" y="708">4</text><text class="s" x="670" y="708">3</text><text class="s" x="689" y="708">6</text>
</g>
</svg>
</body></html>
